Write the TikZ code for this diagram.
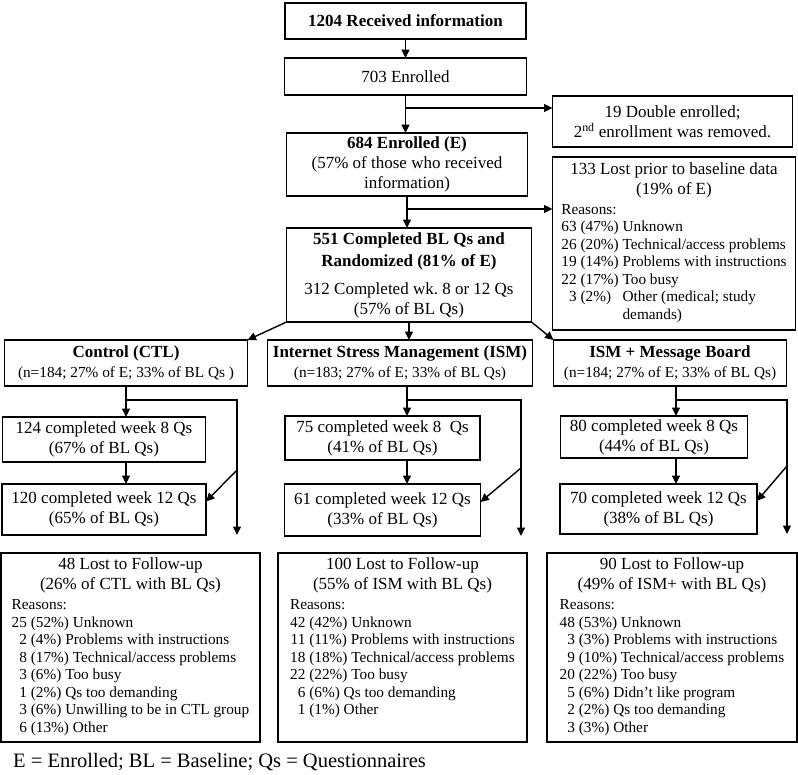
\documentclass[tikz,border=0pt]{standalone}
\usepackage{fontspec}
\setmainfont{Liberation Serif}
\usetikzlibrary{arrows.meta, calc, positioning}
\newcommand{\subfont}{\fontsize{15.3}{17.5}\selectfont}

\begin{document}
\begin{tikzpicture}[x=1pt, y=1pt,
  box/.style={draw, line width=1.8pt, align=center, inner sep=2pt, outer sep=0pt,
              font=\fontsize{17}{20}\selectfont, minimum width=#1},
  lost/.style={box=#1, minimum height=189pt},
  arr/.style={-{Triangle[length=8.5pt, width=8pt]}, line width=1.4pt}]
  \useasboundingbox (0,0) rectangle (798,-774);
  % enrollment column
  \node[box=241pt, minimum height=36pt] (recv) at (405.5,-21) {\textbf{1204 Received information}};
  \node[box=242pt, minimum height=37pt, below=19pt of recv] (enr) {703 Enrolled};
  \node[box=241pt, minimum height=63pt, below=38pt of enr, xshift=1.5pt] (enrE)
    {\textbf{684 Enrolled (E)}\\ (57\% of those who received\\ information)};
  \node[box=245pt, minimum height=94pt, below=32pt of enrE, xshift=2pt] (rand)
    {\textbf{551 Completed BL Qs and}\\[2pt] \textbf{Randomized (81\% of E)}\\[8pt]
     312 Completed wk.~8 or 12 Qs\\ (57\% of BL Qs)};
  % side boxes
  \node[box=240pt, minimum height=51pt, below right=1pt and 26pt of enr.south east] (dbl)
    {19 Double enrolled;\\ 2\textsuperscript{nd} enrollment was removed.};
  \node[box=243pt, minimum height=173pt, below right=10pt and 0pt of dbl.south west] (lost133)
    {133 Lost prior to baseline data\\ (19\% of E)\\
     {\subfont\begin{tabular}[t]{@{}r@{ }l@{ }l@{}}
       \multicolumn{3}{@{}l@{}}{Reasons:}\\
       63 & (47\%) & Unknown\\
       26 & (20\%) & Technical/access problems\\
       19 & (14\%) & Problems with instructions\\
       22 & (17\%) & Too busy\\
       3 & (2\%) & Other (medical; study\\
         &        & demands)
     \end{tabular}}};
  % study arms
  \node[box=265pt, minimum height=46pt, below=18pt of rand, xshift=-9pt] (ism)
    {\textbf{Internet Stress Management (ISM)}\\ {\subfont (n=183; 27\% of E; 33\% of BL Qs)}};
  \node[box=243pt, minimum height=46pt, left=20pt of ism] (ctl)
    {\textbf{Control (CTL)}\\ {\subfont (n=184; 27\% of E; 33\% of BL Qs )}};
  \node[box=233pt, minimum height=46pt, right=21pt of ism] (ismb)
    {\textbf{ISM + Message Board}\\ {\subfont (n=184; 27\% of E; 33\% of BL Qs)}};
  % follow-up questionnaires
  \node[box=203pt, minimum height=45pt, below=31pt of ctl, xshift=-22pt] (c8) {124 completed week 8 Qs\\ (67\% of BL Qs)};
  \node[box=204pt, minimum height=51pt, below=22pt of c8] (c12) {120 completed week 12 Qs\\ (65\% of BL Qs)};
  \node[box=195pt, minimum height=44pt, below=30pt of ism, xshift=-17.5pt] (i8) {75 completed week 8\ \ Qs\\ (41\% of BL Qs)};
  \node[box=196pt, minimum height=52pt, below=24pt of i8] (i12) {61 completed week 12 Qs\\ (33\% of BL Qs)};
  \node[box=187pt, minimum height=42pt, below=30pt of ismb, xshift=-16pt] (m8) {80 completed week 8 Qs\\ (44\% of BL Qs)};
  \node[box=197pt, minimum height=50pt, below=26pt of m8, xshift=4.5pt] (m12) {70 completed week 12 Qs\\ (38\% of BL Qs)};
  % lost to follow-up
  \node[lost=249pt, below=17pt of i12, xshift=20pt] (l100)
    {100 Lost to Follow-up\\ (55\% of ISM with BL Qs)\\
     {\subfont\begin{tabular}[t]{@{}r@{ }l@{}}
       \multicolumn{2}{@{}l@{}}{Reasons:}\\
       42 & (42\%) Unknown\\
       11 & (11\%) Problems with instructions\\
       18 & (18\%) Technical/access problems\\
       22 & (22\%) Too busy\\
       6 & (6\%) Qs too demanding\\
       1 & (1\%) Other\\[17.5pt]
     \end{tabular}}};
  \node[lost=259pt, left=18pt of l100] (l48)
    {48 Lost to Follow-up\\ (26\% of CTL with BL Qs)\\
     {\subfont\begin{tabular}[t]{@{}r@{ }l@{}}
       \multicolumn{2}{@{}l@{}}{Reasons:}\\
       25 & (52\%) Unknown\\
       2 & (4\%) Problems with instructions\\
       8 & (17\%) Technical/access problems\\
       3 & (6\%) Too busy\\
       1 & (2\%) Qs too demanding\\
       3 & (6\%) Unwilling to be in CTL group\\
       6 & (13\%) Other
     \end{tabular}}};
  \node[lost=250pt, right=20pt of l100] (l90)
    {90 Lost to Follow-up\\ (49\% of ISM+ with BL Qs)\\
     {\subfont\begin{tabular}[t]{@{}r@{ }l@{}}
       \multicolumn{2}{@{}l@{}}{Reasons:}\\
       48 & (53\%) Unknown\\
       3 & (3\%) Problems with instructions\\
       9 & (10\%) Technical/access problems\\
       20 & (22\%) Too busy\\
       5 & (6\%) Didn't like program\\
       2 & (2\%) Qs too demanding\\
       3 & (3\%) Other
     \end{tabular}}};
  \node[font=\fontsize{20.5}{24}\selectfont, anchor=west, inner sep=0pt] (key)
    at ([xshift=12pt, yshift=-20pt]l48.south west) {E = Enrolled; BL = Baseline; Qs = Questionnaires};
  % arrows, top part
  \draw[arr] (recv) -- (enr);
  \draw[arr] (enr.south) -- (enr.south |- enrE.north);
  \coordinate (b1) at ([yshift=-13pt]enr.south);
  \draw[arr] (b1) -- (b1 -| dbl.west);
  \draw[arr] (enrE.south) -- (enrE.south |- rand.north);
  \coordinate (b2) at ([yshift=-13pt]enrE.south);
  \draw[arr] (b2) -- (b2 -| lost133.west);
  \draw[arr] (rand.south west) -- (ctl.north east);
  \draw[arr] (rand.south) -- (rand.south |- ism.north);
  \draw[arr] (rand.south east) -- (ismb.north west);
  % arrows, study arms
  \foreach \g/\a/\b/\dx/\sx in {ctl/c8/c12/0pt/111pt, ism/i8/i12/7pt/114pt, ismb/m8/m12/6pt/111pt} {
    \coordinate (\g-t) at ([xshift=\dx]\g.south);
    \coordinate (\g-j) at ([yshift=-14pt]\g-t);
    \coordinate (\g-s) at ([xshift=\sx]\g-j);
    \draw[arr] (\g-t) -- (\g-t |- \a.north);
    \draw[arr] (\g-t |- \a.south) -- (\g-t |- \b.north);
    \draw[arr] (\g-j) -- (\g-s) -- (\g-s |- \b.south);
    \draw[arr] ($(\g-s |- \a.south)+(0,-8pt)$) -- ($(\b.east)+(0,8pt)$);
  }
\end{tikzpicture}
\end{document}
